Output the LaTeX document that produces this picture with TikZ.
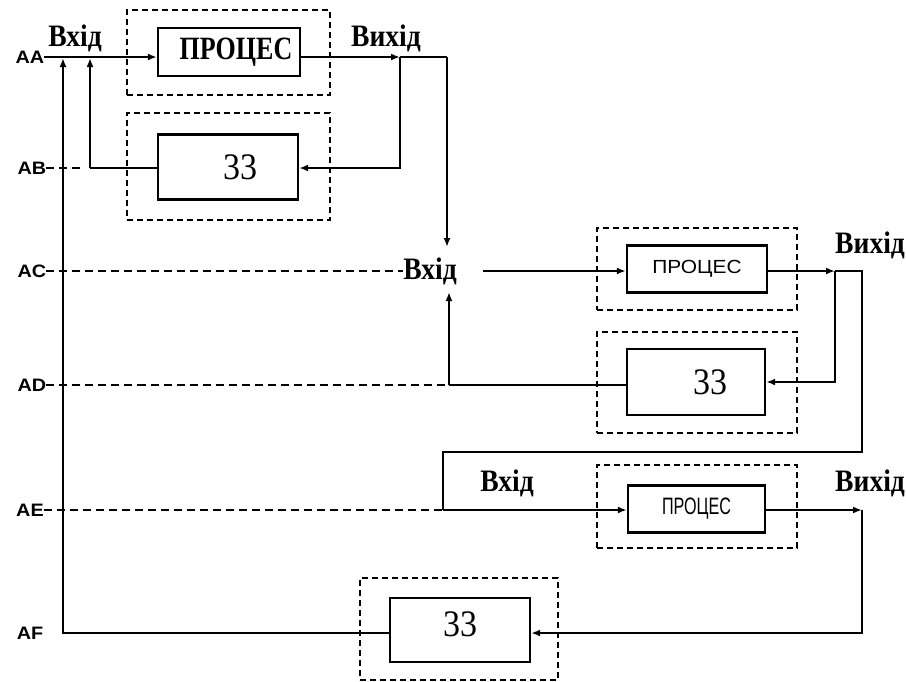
\documentclass[tikz,border=0pt]{standalone}
\usepackage{fontspec}
\setmainfont{Liberation Serif}
\setsansfont{Liberation Sans}
\usetikzlibrary{arrows.meta}
\begin{document}
\begin{tikzpicture}[x=1pt,y=-1pt,
  frame/.style={draw,line width=1.8pt,dash pattern=on 6pt off 4pt,inner sep=0pt},
  blk/.style={draw,line width=2.4pt,inner sep=0pt},
  wire/.style={line width=2.1pt},
  bus/.style={line width=1.7pt,dash pattern=on 8pt off 5pt},
  arr/.style={-{Latex[length=9pt,width=7pt]}},
  bl/.style={font=\sffamily\bfseries\fontsize{18}{18}\selectfont,inner sep=0pt},
  io/.style={font=\bfseries\fontsize{24}{24}\selectfont,inner sep=0pt},
  pser/.style={font=\bfseries\fontsize{26}{26}\selectfont},
  psans/.style={font=\sffamily\fontsize{19}{19}\selectfont},
  num/.style={font=\fontsize{34}{34}\selectfont}]
\useasboundingbox (0,0) rectangle (906,681);
% bus labels
\node[bl] (AA) at (30,57) {\scalebox{1.1}[1]{AA}};
\node[bl] (AB) at (32,168) {\scalebox{1.1}[1]{AB}};
\node[bl] (AC) at (32,271) {\scalebox{1.1}[1]{AC}};
\node[bl] (AD) at (32,385) {\scalebox{1.1}[1]{AD}};
\node[bl] (AE) at (30,510) {\scalebox{1.1}[1]{AE}};
\node[bl] (AF) at (30,633) {\scalebox{1.1}[1]{AF}};
% frames
\node[frame,minimum width=203,minimum height=85] (f1) at (228.5,52.5) {};
\node[frame,minimum width=203,minimum height=107] (f2) at (228.5,166.5) {};
\node[frame,minimum width=200,minimum height=82] (f3) at (697,269) {};
\node[frame,minimum width=200,minimum height=101] (f4) at (697,382.5) {};
\node[frame,minimum width=200,minimum height=83] (f5) at (697,506.5) {};
\node[frame,minimum width=198,minimum height=102] (f6) at (459,629) {};
% blocks
\node[blk,minimum width=142,minimum height=48,pser] (p1) at (229,52) {\raisebox{-6pt}{\hspace*{14pt}\scalebox{1}[1.25]{ПРОЦЕС}}};
\node[blk,minimum width=140,minimum height=65,num] (z1) at (228,167) {\hspace*{24pt}\scalebox{1}[1.1]{33}};
\node[blk,minimum width=140,minimum height=47,psans] (p2) at (697,269) {\scalebox{1.1}[1]{ПРОЦЕС}};
\node[blk,minimum width=138,minimum height=66,num] (z2) at (696,382) {\hspace*{28pt}\scalebox{1}[1.1]{33}};
\node[blk,minimum width=137,minimum height=47,psans] (p3) at (696.5,509) {\scalebox{0.85}[1.25]{ПРОЦЕС}};
\node[blk,minimum width=140,minimum height=64,num] (z3) at (460,630) {\raisebox{12pt}{\scalebox{1}[1.1]{33}}};
% io labels
\node[io] (inA) at (75,38) {\scalebox{1.15}[1.3]{Вхід}};
\node[io] (outA) at (386,38) {\scalebox{1.15}[1.3]{Вихід}};
\node[io] (inC) at (430,271) {\scalebox{1.15}[1.3]{Вхід}};
\node[io,anchor=west] (outC) at (835,245) {\scalebox{1.15}[1.3]{Вихід}};
\node[io] (inE) at (507,483) {\scalebox{1.15}[1.3]{Вхід}};
\node[io,anchor=west] (outE) at (835,483) {\scalebox{1.15}[1.3]{Вихід}};
% coordinates
\coordinate (lb) at (63,633);
\coordinate (lt) at (63,58);
\coordinate (ab1) at (85,168);
\coordinate (ab2) at (90,168);
\coordinate (abt) at (90,58);
\coordinate (t1) at (400,57);
\coordinate (t1b) at (400,168);
\coordinate (r1) at (447,57);
\coordinate (r1b) at (447,247);
\coordinate (c1) at (483,271);
\coordinate (d1) at (449,385);
\coordinate (d1t) at (449,292);
\coordinate (t2) at (835,271);
\coordinate (t2b) at (835,382);
\coordinate (r2) at (862,271);
\coordinate (r2b) at (862,452);
\coordinate (e1) at (443,452);
\coordinate (e2) at (443,510);
\coordinate (t3) at (862,510);
\coordinate (t3b) at (862,633);
% AA line
\draw[wire,arr] (AA.east) -- (AA -| p1.west);
\draw[wire,arr] (z3.west |- lb) -- (lb) -- (lt);
% AB line
\draw[bus] (AB.east) -- (ab1);
\draw[wire] (ab2) -- (z1.west |- ab2);
\draw[wire,arr] (ab2) -- (abt);
% process 1 output
\draw[wire,arr] (p1.east |- t1) -- (t1);
\draw[wire] (t1) -- (r1);
\draw[wire,arr] (r1) -- (r1b);
\draw[wire,arr] (t1) -- (t1b) -- (z1.east |- t1b);
% AC line
\draw[bus] (AC.east) -- (inC.west);
\draw[wire,arr] (c1) -- (p2.west |- c1);
% AD line
\draw[bus] (AD.east) -- (d1);
\draw[wire] (d1) -- (z2.west |- d1);
\draw[wire,arr] (d1) -- (d1t);
% process 2 output
\draw[wire,arr] (p2.east |- t2) -- (t2);
\draw[wire,arr] (t2) -- (t2b) -- (z2.east |- t2b);
\draw[wire] (t2) -- (r2) -- (r2b) -- (e1) -- (e2);
% AE line
\draw[bus] (AE.east) -- (e2);
\draw[wire,arr] (e2) -- (p3.west |- e2);
% process 3 output
\draw[wire,arr] (p3.east |- t3) -- (t3);
\draw[wire,arr] (t3) -- (t3b) -- (z3.east |- t3b);
\end{tikzpicture}
\end{document}
